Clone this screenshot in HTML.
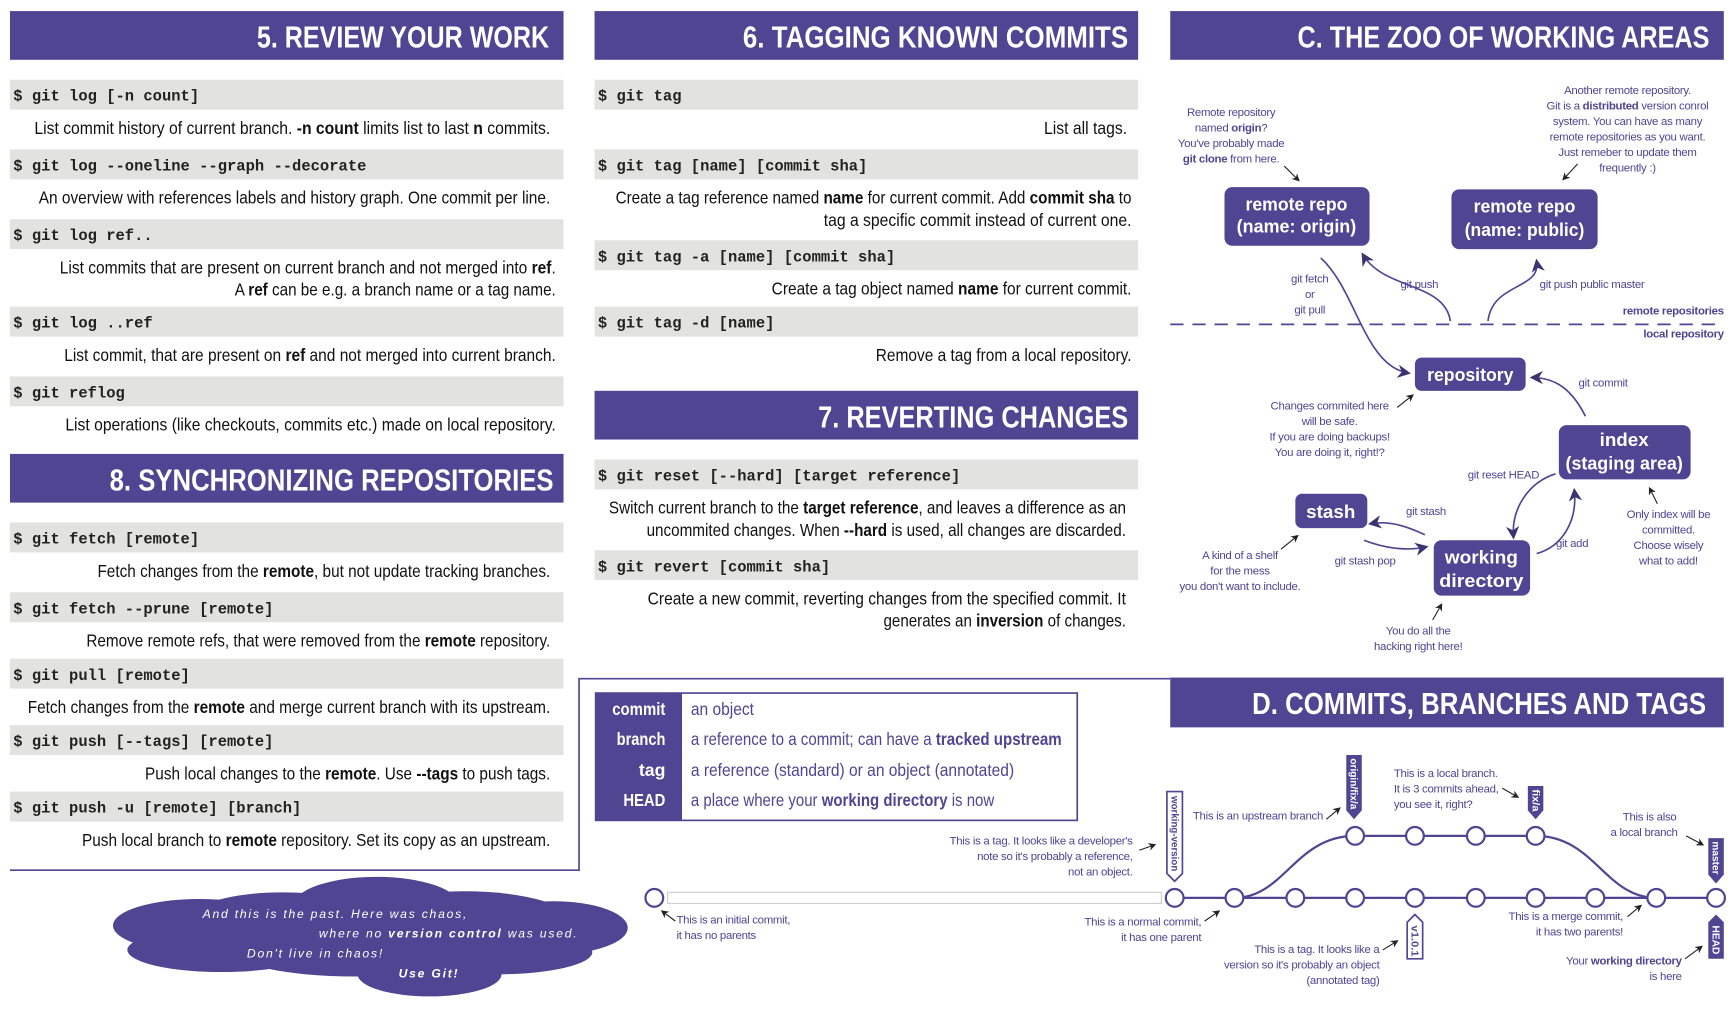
<!DOCTYPE html>
<html><head><meta charset="utf-8"><style>
html,body{margin:0;padding:0;background:#fff;}
svg{display:block;}
.h{font-family:"Liberation Sans Narrow","Liberation Sans",sans-serif;font-weight:bold;font-size:28px;fill:#fff;}
.m{font-family:"Liberation Mono",monospace;font-weight:bold;font-size:14px;fill:#222;}
.d{font-family:"Liberation Sans Narrow","Liberation Sans",sans-serif;font-size:16px;fill:#111;}
.b{font-weight:bold;}
.a{font-family:"Liberation Sans Narrow","Liberation Sans",sans-serif;font-size:10.3px;letter-spacing:-0.25px;fill:#4f4593;}
.bx{font-family:"Liberation Sans",sans-serif;font-weight:bold;font-size:17px;fill:#fff;}
.g{font-family:"Liberation Sans Narrow","Liberation Sans",sans-serif;font-size:16px;}
.tg{font-family:"Liberation Sans",sans-serif;font-weight:bold;font-size:9.5px;fill:#fff;}
.cl{font-family:"Liberation Sans",sans-serif;font-style:italic;font-size:11px;fill:#fff;letter-spacing:1.6px;}
</style></head><body>
<svg width="1736" height="1018" viewBox="0 0 1568 919.5" xmlns="http://www.w3.org/2000/svg">
<defs>
<marker id="ar" viewBox="0 0 10 10" refX="8" refY="5" markerWidth="7" markerHeight="7" orient="auto-start-reverse"><path d="M0,0 L10,5 L0,10 L3,5 z" fill="#222"/></marker>
<marker id="ap" viewBox="0 0 10 10" refX="8" refY="5" markerWidth="8" markerHeight="8" orient="auto-start-reverse"><path d="M0,0 L10,5 L0,10 L3,5 z" fill="#3b3470"/></marker>
</defs>
<g fill="#4f4593">
<rect x="9" y="10" width="500" height="44"/>
<rect x="537" y="10" width="491" height="44"/>
<rect x="1057" y="10" width="500" height="44"/>
<rect x="537" y="353" width="491" height="44"/>
<rect x="9" y="410" width="500" height="44"/>
<rect x="1057" y="612" width="500" height="45"/>
</g>
<text class="h" x="496" y="43" text-anchor="end" textLength="264" lengthAdjust="spacingAndGlyphs">5. REVIEW YOUR WORK</text>
<text class="h" x="1019" y="43" text-anchor="end" textLength="348" lengthAdjust="spacingAndGlyphs">6. TAGGING KNOWN COMMITS</text>
<text class="h" x="1544" y="43" text-anchor="end" textLength="372" lengthAdjust="spacingAndGlyphs">C. THE ZOO OF WORKING AREAS</text>
<text class="h" x="1019" y="386" text-anchor="end" textLength="280" lengthAdjust="spacingAndGlyphs">7. REVERTING CHANGES</text>
<text class="h" x="500" y="443" text-anchor="end" textLength="401" lengthAdjust="spacingAndGlyphs">8. SYNCHRONIZING REPOSITORIES</text>
<text class="h" x="1541" y="645" text-anchor="end" textLength="410" lengthAdjust="spacingAndGlyphs">D. COMMITS, BRANCHES AND TAGS</text>

<g fill="#e2e2e0">
<rect x="9" y="72" width="500" height="27"/><rect x="9" y="135" width="500" height="27"/><rect x="9" y="198" width="500" height="27"/><rect x="9" y="277" width="500" height="27"/><rect x="9" y="340" width="500" height="27"/>
<rect x="9" y="472" width="500" height="27"/><rect x="9" y="535" width="500" height="27"/><rect x="9" y="595" width="500" height="27"/><rect x="9" y="655" width="500" height="27"/><rect x="9" y="715" width="500" height="27"/>
<rect x="537" y="72" width="491" height="27"/><rect x="537" y="135" width="491" height="27"/><rect x="537" y="217" width="491" height="27"/><rect x="537" y="277" width="491" height="27"/>
<rect x="537" y="415" width="491" height="27"/><rect x="537" y="497" width="491" height="27"/>
</g>
<g class="m">
<text x="12" y="91">$ git log [-n count]</text>
<text x="12" y="154">$ git log --oneline --graph --decorate</text>
<text x="12" y="217">$ git log ref..</text>
<text x="12" y="296">$ git log ..ref</text>
<text x="12" y="359">$ git reflog</text>
<text x="12" y="491">$ git fetch [remote]</text>
<text x="12" y="554">$ git fetch --prune [remote]</text>
<text x="12" y="614">$ git pull [remote]</text>
<text x="12" y="674">$ git push [--tags] [remote]</text>
<text x="12" y="734">$ git push -u [remote] [branch]</text>
<text x="540" y="91">$ git tag</text>
<text x="540" y="154">$ git tag [name] [commit sha]</text>
<text x="540" y="236">$ git tag -a [name] [commit sha]</text>
<text x="540" y="296">$ git tag -d [name]</text>
<text x="540" y="434">$ git reset [--hard] [target reference]</text>
<text x="540" y="516">$ git revert [commit sha]</text>
</g>
<g class="d" text-anchor="end">
<text x="497" y="121" textLength="466" lengthAdjust="spacingAndGlyphs">List commit history of current branch. <tspan class="b">-n count</tspan> limits list to last <tspan class="b">n</tspan> commits.</text>
<text x="497" y="184" textLength="462" lengthAdjust="spacingAndGlyphs">An overview with references labels and history graph. One commit per line.</text>
<text x="502" y="247" textLength="448" lengthAdjust="spacingAndGlyphs">List commits that are present on current branch and not merged into <tspan class="b">ref</tspan>.</text>
<text x="502" y="267" textLength="290" lengthAdjust="spacingAndGlyphs">A <tspan class="b">ref</tspan> can be e.g. a branch name or a tag name.</text>
<text x="502" y="326" textLength="444" lengthAdjust="spacingAndGlyphs">List commit, that are present on <tspan class="b">ref</tspan> and not merged into current branch.</text>
<text x="502" y="389" textLength="443" lengthAdjust="spacingAndGlyphs">List operations (like checkouts, commits etc.) made on local repository.</text>
<text x="497" y="521" textLength="409" lengthAdjust="spacingAndGlyphs">Fetch changes from the <tspan class="b">remote</tspan>, but not update tracking branches.</text>
<text x="497" y="584" textLength="419" lengthAdjust="spacingAndGlyphs">Remove remote refs, that were removed from the <tspan class="b">remote</tspan> repository.</text>
<text x="497" y="644" textLength="472" lengthAdjust="spacingAndGlyphs">Fetch changes from the <tspan class="b">remote</tspan> and merge current branch with its upstream.</text>
<text x="497" y="704" textLength="366" lengthAdjust="spacingAndGlyphs">Push local changes to the <tspan class="b">remote</tspan>. Use <tspan class="b">--tags</tspan> to push tags.</text>
<text x="497" y="764" textLength="423" lengthAdjust="spacingAndGlyphs">Push local branch to <tspan class="b">remote</tspan> repository. Set its copy as an upstream.</text>
<text x="1018" y="121" textLength="75" lengthAdjust="spacingAndGlyphs">List all tags.</text>
<text x="1022" y="184" textLength="466" lengthAdjust="spacingAndGlyphs">Create a tag reference named <tspan class="b">name</tspan> for current commit. Add <tspan class="b">commit sha</tspan> to</text>
<text x="1022" y="204" textLength="278" lengthAdjust="spacingAndGlyphs">tag a specific commit instead of current one.</text>
<text x="1022" y="266" textLength="325" lengthAdjust="spacingAndGlyphs">Create a tag object named <tspan class="b">name</tspan> for current commit.</text>
<text x="1022" y="326" textLength="231" lengthAdjust="spacingAndGlyphs">Remove a tag from a local repository.</text>
<text x="1017" y="464" textLength="467" lengthAdjust="spacingAndGlyphs">Switch current branch to the <tspan class="b">target reference</tspan>, and leaves a difference as an</text>
<text x="1017" y="484" textLength="433" lengthAdjust="spacingAndGlyphs">uncommited changes. When <tspan class="b">--hard</tspan> is used, all changes are discarded.</text>
<text x="1017" y="546" textLength="432" lengthAdjust="spacingAndGlyphs">Create a new commit, reverting changes from the specified commit. It</text>
<text x="1017" y="566" textLength="219" lengthAdjust="spacingAndGlyphs">generates an <tspan class="b">inversion</tspan> of changes.</text>
</g>

<path d="M9,786 H523 V613 H1057" fill="none" stroke="#4f4593" stroke-width="1.5"/>

<rect x="538" y="626" width="435" height="115" fill="#fff" stroke="#4f4593" stroke-width="1.5"/>
<rect x="538" y="626" width="78" height="115" fill="#4f4593"/>
<g class="g">
<text x="601" y="646" text-anchor="end" fill="#fff" font-weight="bold" textLength="48" lengthAdjust="spacingAndGlyphs">commit</text>
<text x="601" y="673" text-anchor="end" fill="#fff" font-weight="bold" textLength="44" lengthAdjust="spacingAndGlyphs">branch</text>
<text x="601" y="701" text-anchor="end" fill="#fff" font-weight="bold">tag</text>
<text x="601" y="728" text-anchor="end" fill="#fff" font-weight="bold" textLength="38" lengthAdjust="spacingAndGlyphs">HEAD</text>
<text x="624" y="646" fill="#4f4593" textLength="57" lengthAdjust="spacingAndGlyphs">an object</text>
<text x="624" y="673" fill="#4f4593" textLength="335" lengthAdjust="spacingAndGlyphs">a reference to a commit; can have a <tspan class="b">tracked upstream</tspan></text>
<text x="624" y="701" fill="#4f4593" textLength="292" lengthAdjust="spacingAndGlyphs">a reference (standard) or an object (annotated)</text>
<text x="624" y="728" fill="#4f4593" textLength="274" lengthAdjust="spacingAndGlyphs">a place where your <tspan class="b">working directory</tspan> is now</text>
</g>

<g fill="#4f4593">
<ellipse cx="180" cy="836" rx="78" ry="24"/>
<ellipse cx="255" cy="828" rx="80" ry="22"/>
<ellipse cx="340" cy="818" rx="75" ry="26"/>
<ellipse cx="420" cy="835" rx="100" ry="30"/>
<ellipse cx="500" cy="838" rx="67" ry="24"/>
<ellipse cx="200" cy="858" rx="85" ry="20"/>
<ellipse cx="320" cy="858" rx="110" ry="24"/>
<ellipse cx="450" cy="860" rx="85" ry="20"/>
<ellipse cx="388" cy="880" rx="65" ry="20"/>
</g>
<text class="cl" x="183" y="829">And this is the past. Here was chaos,</text>
<text class="cl" x="288" y="847">where no <tspan font-weight="bold">version control</tspan> was used.</text>
<text class="cl" x="223" y="865">Don't live in chaos!</text>
<text class="cl" x="360" y="883" font-weight="bold">Use Git!</text>

<g fill="none" stroke="#4f4593" stroke-width="2">
<path d="M1061,811 H1550"/>
<path d="M1115,811 C1160,811 1170,755 1224,755 H1387 C1440,755 1450,811 1496,811"/>
</g>
<rect x="603" y="806" width="446" height="10" fill="#fff" stroke="#ccc" stroke-width="1"/>
<g fill="#fff" stroke="#4f4593" stroke-width="2">
<circle cx="591" cy="811" r="8"/>
<circle cx="1061" cy="811" r="8"/><circle cx="1115" cy="811" r="8"/><circle cx="1170" cy="811" r="8"/><circle cx="1224" cy="811" r="8"/><circle cx="1278" cy="811" r="8"/><circle cx="1333" cy="811" r="8"/><circle cx="1387" cy="811" r="8"/><circle cx="1441" cy="811" r="8"/><circle cx="1496" cy="811" r="8"/><circle cx="1550" cy="811" r="8"/>
<circle cx="1224" cy="755" r="8"/><circle cx="1278" cy="755" r="8"/><circle cx="1333" cy="755" r="8"/><circle cx="1387" cy="755" r="8"/>
</g>
<path d="M1054,715 H1068 V789 L1061,796 L1054,789 Z" fill="#fff" stroke="#4f4593" stroke-width="1.5"/>
<text class="tg" style="fill:#4f4593" transform="translate(1058,719) rotate(90)" textLength="68" lengthAdjust="spacingAndGlyphs">working-version</text>
<path d="M1216,682 H1230 V732 L1223,740 L1216,732 Z" fill="#4f4593"/>
<text class="tg" transform="translate(1220,685) rotate(90)" textLength="46" lengthAdjust="spacingAndGlyphs">origin/fix/a</text>
<path d="M1380,710 H1394 V732 L1387,740 L1380,732 Z" fill="#4f4593"/>
<text class="tg" transform="translate(1384,713) rotate(90)" textLength="20" lengthAdjust="spacingAndGlyphs">fix/a</text>
<path d="M1543,757 H1557 V790 L1550,798 L1543,790 Z" fill="#4f4593"/>
<text class="tg" transform="translate(1547,760) rotate(90)" textLength="30" lengthAdjust="spacingAndGlyphs">master</text>
<path d="M1278,826 L1285,833 V866 H1271 V833 Z" fill="#fff" stroke="#4f4593" stroke-width="1.5"/>
<text class="tg" style="fill:#4f4593" transform="translate(1275,836) rotate(90)" textLength="28" lengthAdjust="spacingAndGlyphs">v1.0.1</text>
<path d="M1550,826 L1557,833 V866 H1543 V833 Z" fill="#4f4593"/>
<text class="tg" transform="translate(1547,836) rotate(90)" textLength="26" lengthAdjust="spacingAndGlyphs">HEAD</text>

<g class="a">
<text text-anchor="end" x="1023" y="763">This is a tag. It looks like a developer's</text>
<text text-anchor="end" x="1023" y="777">note so it's probably a reference,</text>
<text text-anchor="end" x="1023" y="791">not an object.</text>
<text text-anchor="end" x="1195" y="740">This is an upstream branch</text>
<text x="1259" y="702">This is a local branch.</text>
<text x="1259" y="716">It is 3 commits ahead,</text>
<text x="1259" y="730">you see it, right?</text>
<text text-anchor="middle" x="1490" y="741">This is also</text>
<text text-anchor="middle" x="1485" y="755">a local branch</text>
<text x="611" y="834">This is an initial commit,</text>
<text x="611" y="848">it has no parents</text>
<text text-anchor="end" x="1085" y="836">This is a normal commit,</text>
<text text-anchor="end" x="1085" y="850">it has one parent</text>
<text text-anchor="end" x="1246" y="861">This is a tag. It looks like a</text>
<text text-anchor="end" x="1246" y="875">version so it's probably an object</text>
<text text-anchor="end" x="1246" y="889">(annotated tag)</text>
<text text-anchor="end" x="1466" y="831">This is a merge commit,</text>
<text text-anchor="end" x="1466" y="845">it has two parents!</text>
<text text-anchor="end" x="1519" y="871">Your <tspan class="b">working directory</tspan></text>
<text text-anchor="end" x="1519" y="885">is here</text>
</g>
<g stroke="#222" stroke-width="1" marker-end="url(#ar)">
<line x1="1029" y1="768" x2="1043" y2="763"/>
<line x1="1198" y1="740" x2="1210" y2="730"/>
<line x1="1357" y1="712" x2="1371" y2="720"/>
<line x1="1523" y1="755" x2="1538" y2="763"/>
<line x1="610" y1="832" x2="598" y2="823"/>
<line x1="1088" y1="832" x2="1101" y2="823"/>
<line x1="1249" y1="858" x2="1262" y2="850"/>
<line x1="1470" y1="828" x2="1482" y2="818"/>
<line x1="1522" y1="866" x2="1537" y2="855"/>
</g>

<line x1="1057" y1="293" x2="1557" y2="293" stroke="#4f4593" stroke-width="1.5" stroke-dasharray="12,8"/>
<g fill="#4f4593">
<rect x="1106" y="169" width="131" height="53" rx="7"/>
<rect x="1311" y="171" width="132" height="54" rx="7"/>
<rect x="1278" y="323" width="100" height="30" rx="6"/>
<rect x="1408" y="384" width="119" height="49" rx="7"/>
<rect x="1170" y="446" width="65" height="31" rx="6"/>
<rect x="1295" y="488" width="87" height="50" rx="7"/>
</g>
<g class="bx" text-anchor="middle">
<text x="1171" y="190" textLength="92" lengthAdjust="spacingAndGlyphs">remote repo</text><text x="1171" y="210" textLength="108" lengthAdjust="spacingAndGlyphs">(name: origin)</text>
<text x="1377" y="192" textLength="92" lengthAdjust="spacingAndGlyphs">remote repo</text><text x="1377" y="213" textLength="108" lengthAdjust="spacingAndGlyphs">(name: public)</text>
<text x="1328" y="344" textLength="78" lengthAdjust="spacingAndGlyphs">repository</text>
<text x="1467" y="403">index</text><text x="1467" y="424" textLength="106" lengthAdjust="spacingAndGlyphs">(staging area)</text>
<text x="1202" y="468">stash</text>
<text x="1338" y="509" textLength="66" lengthAdjust="spacingAndGlyphs">working</text><text x="1338" y="530" textLength="76" lengthAdjust="spacingAndGlyphs">directory</text>
</g>
<g fill="none" stroke="#4f4593" stroke-width="1.5" marker-end="url(#ap)">
<path d="M1193,233 C1225,262 1232,330 1272,337"/>
<path d="M1310,290 C1305,255 1250,262 1231,230"/>
<path d="M1344,290 C1348,255 1392,262 1388,236"/>
<path d="M1432,376 C1420,352 1405,341 1384,341"/>
<path d="M1405,428 C1380,436 1365,460 1367,485"/>
<path d="M1388,500 C1410,494 1425,472 1422,443"/>
<path d="M1287,483 C1272,476 1256,470 1238,473"/>
<path d="M1232,488 C1250,495 1270,498 1288,494"/>
</g>
<g class="a" text-anchor="middle">
<text x="1112" y="105">Remote repository</text>
<text x="1112" y="119">named <tspan class="b">origin</tspan>?</text>
<text x="1112" y="133">You've probably made</text>
<text x="1112" y="147"><tspan class="b">git clone</tspan> from here.</text>
<text x="1470" y="85">Another remote repository.</text>
<text x="1470" y="99">Git is a <tspan class="b">distributed</tspan> version conrol</text>
<text x="1470" y="113">system. You can have as many</text>
<text x="1470" y="127">remote repositories as you want.</text>
<text x="1470" y="141">Just remeber to update them</text>
<text x="1470" y="155">frequently :)</text>
<text x="1183" y="255">git fetch</text><text x="1183" y="269">or</text><text x="1183" y="283">git pull</text>
<text x="1282" y="260">git push</text>
<text x="1438" y="260">git push public master</text>
<text x="1201" y="370">Changes commited here</text>
<text x="1201" y="384">will be safe.</text>
<text x="1201" y="398">If you are doing backups!</text>
<text x="1201" y="412">You are doing it, right!?</text>
<text x="1448" y="349">git commit</text>
<text x="1358" y="432">git reset HEAD</text>
<text x="1507" y="468">Only index will be</text>
<text x="1507" y="482">committed.</text>
<text x="1507" y="496">Choose wisely</text>
<text x="1507" y="510">what to add!</text>
<text x="1288" y="465">git stash</text>
<text x="1233" y="510">git stash pop</text>
<text x="1420" y="494">git add</text>
<text x="1120" y="505">A kind of a shelf</text>
<text x="1120" y="519">for the mess</text>
<text x="1120" y="533">you don't want to include.</text>
<text x="1281" y="573">You do all the</text>
<text x="1281" y="587">hacking right here!</text>
</g>
<g class="a b" text-anchor="end">
<text x="1557" y="284">remote repositories</text>
<text x="1557" y="305">local repository</text>
</g>
<g stroke="#222" stroke-width="1" marker-end="url(#ar)">
<line x1="1160" y1="150" x2="1173" y2="163"/>
<line x1="1425" y1="148" x2="1412" y2="162"/>
<line x1="1262" y1="368" x2="1276" y2="357"/>
<line x1="1497" y1="455" x2="1490" y2="441"/>
<line x1="1157" y1="496" x2="1172" y2="484"/>
<line x1="1294" y1="560" x2="1302" y2="546"/>
</g>
</svg>
</body></html>
